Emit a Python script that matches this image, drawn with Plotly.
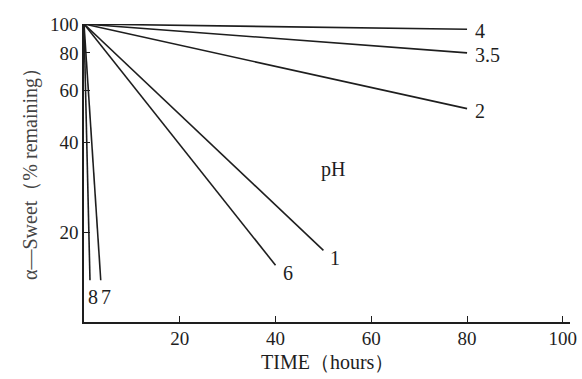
import math
import plotly.graph_objects as go

# Data
ph_labels = ["4", "3.5", "2", "1", "6", "8", "7"]
start_hours = 0
start_remaining = 100
end_hours = [80, 80, 80, 50, 40, 1.25, 3.5]
end_remaining = [96, 80, 52, 17.4, 15.5, 13.8, 13.8]

x_ticks = [20, 40, 60, 80, 100]
y_ticks = [20, 40, 60, 80, 100]

FONT = "Liberation Serif, Times New Roman, serif"
INK = "#1e1e1e"

fig = go.Figure()
for lab, xe, ye in zip(ph_labels, end_hours, end_remaining):
    fig.add_trace(go.Scatter(
        x=[start_hours, xe], y=[start_remaining, ye], mode="lines",
        line=dict(color=INK, width=1.6), name="pH " + lab, showlegend=False,
        hoverinfo="skip"))

# label offsets (pixels) per series
shifts = {
    "4": (6, -2, "left", "middle"),
    "3.5": (6, -2, "left", "middle"),
    "2": (6, -2, "left", "middle"),
    "1": (5, -8, "left", "middle"),
    "6": (5, -8, "left", "middle"),
    "8": (3, -17, "center", "middle"),
    "7": (5, -17, "center", "middle"),
}
for lab, xe, ye in zip(ph_labels, end_hours, end_remaining):
    dx, dy, xa, ya = shifts[lab]
    fig.add_annotation(x=xe, y=math.log10(ye), text=lab,
                       showarrow=False, xshift=dx, yshift=dy, xanchor=xa, yanchor=ya,
                       font=dict(family=FONT, size=20, color=INK))

fig.add_annotation(x=52, y=math.log10(32.5), text="pH", showarrow=False,
                   font=dict(family=FONT, size=20, color=INK))

# axis titles as annotations for exact placement
fig.add_annotation(xref="paper", yref="paper", x=0, y=0.5, xshift=-54, yshift=4,
                   text="α—Sweet（% remaining）", textangle=-90, showarrow=False,
                   xanchor="center", yanchor="middle",
                   font=dict(family=FONT, size=20, color="#444444"))
fig.add_annotation(xref="paper", yref="paper", x=0.5, y=0, yshift=-40,
                   text="TIME（hours）", showarrow=False,
                   xanchor="center", yanchor="middle",
                   font=dict(family=FONT, size=20, color=INK))

fig.update_layout(
    width=582, height=379,
    margin=dict(l=84, r=12, t=24, b=57),
    paper_bgcolor="white", plot_bgcolor="white",
    font=dict(family=FONT, size=19, color=INK),
    xaxis=dict(range=[0, 101.5], tickvals=x_ticks, ticks="inside", ticklen=6,
               tickcolor=INK, showline=True, linecolor=INK, linewidth=1.6,
               showgrid=False, zeroline=False, automargin=False,
               ticklabelstandoff=-2,
               tickfont=dict(family=FONT, size=19, color=INK)),
    yaxis=dict(type="log", range=[1, 2], tickvals=y_ticks, ticks="inside", ticklen=6,
               tickcolor=INK, showline=True, linecolor=INK, linewidth=1.6,
               showgrid=False, zeroline=False, automargin=False,
               tickfont=dict(family=FONT, size=19, color=INK)),
)

fig.write_html(
    "out.html",
    config={"displayModeBar": False},
    post_script="document.body.style.margin='0';document.body.style.overflow='hidden';",
)
